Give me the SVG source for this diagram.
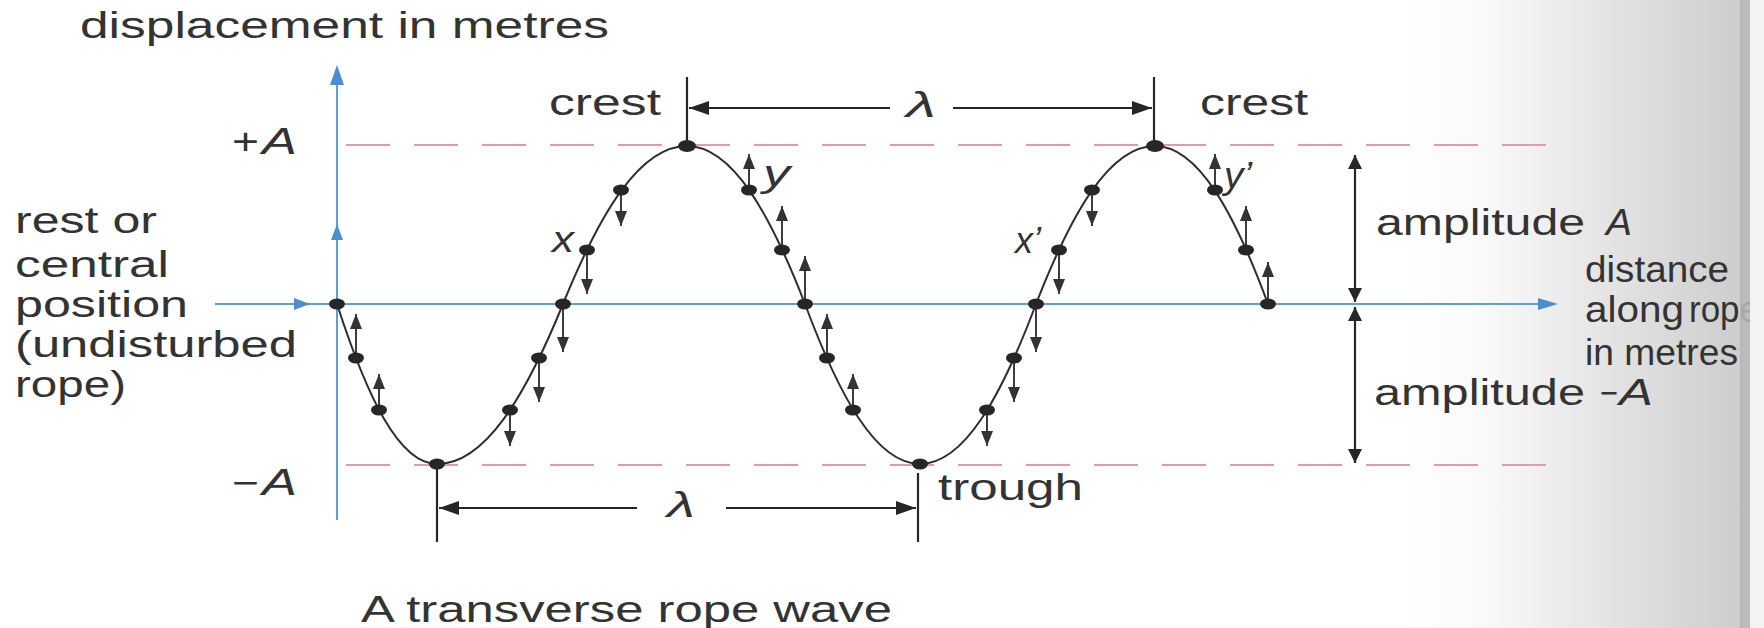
<svg xmlns="http://www.w3.org/2000/svg" width="1764" height="628" viewBox="0 0 1764 628">
<style>
.t{font-family:"Liberation Sans",Arial,sans-serif;font-size:36px;fill:#333333}
.i{font-style:italic}
.ax{stroke:#5d9fd8;stroke-width:2;fill:none}
.axh{fill:#4a8fd0}
.dash{stroke:#df9cb0;stroke-width:2;stroke-dasharray:44 24;fill:none}
.dim{stroke:#262626;stroke-width:2.2;fill:none}
.wave{stroke:#2e2e2e;stroke-width:2;fill:none}
.dot{fill:#262626}
.wa{stroke:#333;stroke-width:1.9;fill:none;marker-end:url(#wah)}
</style>
<defs>
<linearGradient id="pg" x1="0" y1="0" x2="1" y2="0">
<stop offset="0" stop-color="#ffffff" stop-opacity="0"/>
<stop offset="0.45" stop-color="#efefef"/>
<stop offset="1" stop-color="#cdcdcd"/>
</linearGradient>
<marker id="wah" viewBox="0 0 15 12" refX="15" refY="6" markerWidth="15" markerHeight="12" orient="auto" markerUnits="userSpaceOnUse"><path d="M0,0 L15,6 L0,12 z" fill="#333"/></marker>
<marker id="dh" viewBox="0 0 20 14" refX="20" refY="7" markerWidth="20" markerHeight="14" orient="auto" markerUnits="userSpaceOnUse"><path d="M0,0 L20,7 L0,14 z" fill="#262626"/></marker>
<marker id="ah" viewBox="0 0 14 14" refX="14" refY="7" markerWidth="14" markerHeight="14" orient="auto" markerUnits="userSpaceOnUse"><path d="M0,0 L14,7 L0,14 z" fill="#262626"/></marker>
</defs>
<rect width="1764" height="628" fill="#ffffff"/>
<rect x="1380" y="0" width="362" height="628" fill="url(#pg)"/>

<g id="axes">
<line class="ax" x1="337" y1="80" x2="337" y2="520"/>
<path class="axh" d="M337,65 L330,85 L344,85 z"/>
<path class="axh" d="M337,224 L331,240 L343,240 z"/>
<line class="ax" x1="215" y1="304" x2="1542" y2="304"/>
<path class="axh" d="M310,304 L294,298 L294,310 z"/>
<path class="axh" d="M1558,304 L1538,298 L1538,310 z"/>
</g>

<g id="amplitude-lines">
<line class="dash" x1="346" y1="145" x2="1560" y2="145"/>
<line class="dash" x1="346" y1="465" x2="1560" y2="465"/>
</g>

<g id="wave">
<path class="wave" d="M337,304 C367,396.8 399,464 437,464 C484.9,464 525.2,396.8 563,304 C600.2,212.4 639.9,146 687,146 C731.8,146 769.6,212.4 805,304 C839.5,396.8 876.3,464 920,464 C964.1,464 1001.2,396.8 1036,304 C1071.7,212.4 1109.8,146 1155,146 C1197.9,146 1234.1,212.4 1268,304"/>
</g>

<g id="connectors">
<line class="wa" x1="356" y1="358" x2="356" y2="314"/>
<line class="wa" x1="379" y1="410" x2="379" y2="374"/>
<line class="wa" x1="510" y1="410" x2="510" y2="446"/>
<line class="wa" x1="539" y1="358" x2="539" y2="402"/>
<line class="wa" x1="563" y1="304" x2="563" y2="352"/>
<line class="wa" x1="587" y1="250" x2="587" y2="294"/>
<line class="wa" x1="621" y1="190" x2="621" y2="226"/>
<line class="wa" x1="749" y1="190" x2="749" y2="154"/>
<line class="wa" x1="782" y1="250" x2="782" y2="206"/>
<line class="wa" x1="805" y1="304" x2="805" y2="256"/>
<line class="wa" x1="827" y1="358" x2="827" y2="314"/>
<line class="wa" x1="853" y1="410" x2="853" y2="374"/>
<line class="wa" x1="987" y1="410" x2="987" y2="446"/>
<line class="wa" x1="1014" y1="358" x2="1014" y2="402"/>
<line class="wa" x1="1036" y1="304" x2="1036" y2="352"/>
<line class="wa" x1="1059" y1="250" x2="1059" y2="294"/>
<line class="wa" x1="1092" y1="190" x2="1092" y2="226"/>
<line class="wa" x1="1215" y1="190" x2="1215" y2="154"/>
<line class="wa" x1="1246" y1="250" x2="1246" y2="206"/>
<line class="wa" x1="1268" y1="304" x2="1268" y2="262"/>
</g>

<g id="dots">
<ellipse class="dot" cx="337" cy="304" rx="8" ry="5.5"/>
<ellipse class="dot" cx="356" cy="358" rx="8" ry="5.5"/>
<ellipse class="dot" cx="379" cy="410" rx="8" ry="5.5"/>
<ellipse class="dot" cx="437" cy="464" rx="8" ry="5.5"/>
<ellipse class="dot" cx="510" cy="410" rx="8" ry="5.5"/>
<ellipse class="dot" cx="539" cy="358" rx="8" ry="5.5"/>
<ellipse class="dot" cx="563" cy="304" rx="8" ry="5.5"/>
<ellipse class="dot" cx="587" cy="250" rx="8" ry="5.5"/>
<ellipse class="dot" cx="621" cy="190" rx="8" ry="5.5"/>
<ellipse class="dot" cx="687" cy="146" rx="9" ry="6"/>
<ellipse class="dot" cx="749" cy="190" rx="8" ry="5.5"/>
<ellipse class="dot" cx="782" cy="250" rx="8" ry="5.5"/>
<ellipse class="dot" cx="805" cy="304" rx="8" ry="5.5"/>
<ellipse class="dot" cx="827" cy="358" rx="8" ry="5.5"/>
<ellipse class="dot" cx="853" cy="410" rx="8" ry="5.5"/>
<ellipse class="dot" cx="920" cy="464" rx="8" ry="5.5"/>
<ellipse class="dot" cx="987" cy="410" rx="8" ry="5.5"/>
<ellipse class="dot" cx="1014" cy="358" rx="8" ry="5.5"/>
<ellipse class="dot" cx="1036" cy="304" rx="8" ry="5.5"/>
<ellipse class="dot" cx="1059" cy="250" rx="8" ry="5.5"/>
<ellipse class="dot" cx="1092" cy="190" rx="8" ry="5.5"/>
<ellipse class="dot" cx="1155" cy="146" rx="9" ry="6"/>
<ellipse class="dot" cx="1215" cy="190" rx="8" ry="5.5"/>
<ellipse class="dot" cx="1246" cy="250" rx="8" ry="5.5"/>
<ellipse class="dot" cx="1268" cy="304" rx="8" ry="5.5"/>
</g>

<g id="wavelength-top">
<line class="dim" x1="687" y1="77" x2="687" y2="146"/>
<line class="dim" x1="1154" y1="77" x2="1154" y2="146"/>
<line class="dim" x1="890" y1="108" x2="689" y2="108" marker-end="url(#dh)"/>
<line class="dim" x1="953" y1="108" x2="1152" y2="108" marker-end="url(#dh)"/>
<text class="t i" x="906" y="117" textLength="30" lengthAdjust="spacingAndGlyphs">λ</text>
</g>

<g id="wavelength-bottom">
<line class="dim" x1="437" y1="467" x2="437" y2="542"/>
<line class="dim" x1="918" y1="473" x2="918" y2="542"/>
<line class="dim" x1="637" y1="508" x2="439" y2="508" marker-end="url(#dh)"/>
<line class="dim" x1="726" y1="508" x2="916" y2="508" marker-end="url(#dh)"/>
<text class="t i" x="667" y="517" textLength="28" lengthAdjust="spacingAndGlyphs">λ</text>
</g>

<g id="amplitude-arrows">
<line class="dim" x1="1355" y1="228" x2="1355" y2="155" marker-end="url(#ah)"/>
<line class="dim" x1="1355" y1="228" x2="1355" y2="302" marker-end="url(#ah)"/>
<line class="dim" x1="1355" y1="385" x2="1355" y2="307" marker-end="url(#ah)"/>
<line class="dim" x1="1355" y1="385" x2="1355" y2="463" marker-end="url(#ah)"/>
</g>

<g id="labels">
<text class="t" x="80" y="38" font-size="35" textLength="529" lengthAdjust="spacingAndGlyphs">displacement in metres</text>
<text class="t" x="232" y="154" textLength="27" lengthAdjust="spacingAndGlyphs">+</text>
<text class="t i" x="262" y="154" textLength="35" lengthAdjust="spacingAndGlyphs">A</text>
<text class="t" x="232" y="495" textLength="27" lengthAdjust="spacingAndGlyphs">−</text>
<text class="t i" x="262" y="495" textLength="35" lengthAdjust="spacingAndGlyphs">A</text>
<text class="t" x="549" y="115" textLength="112" lengthAdjust="spacingAndGlyphs">crest</text>
<text class="t" x="1200" y="115" textLength="108" lengthAdjust="spacingAndGlyphs">crest</text>
<text class="t" x="15" y="233" textLength="142" lengthAdjust="spacingAndGlyphs">rest or</text>
<text class="t" x="15" y="277" textLength="154" lengthAdjust="spacingAndGlyphs">central</text>
<text class="t" x="15" y="317" textLength="173" lengthAdjust="spacingAndGlyphs">position</text>
<text class="t" x="15" y="357" textLength="282" lengthAdjust="spacingAndGlyphs">(undisturbed</text>
<text class="t" x="15" y="397" textLength="111" lengthAdjust="spacingAndGlyphs">rope)</text>
<text class="t i" x="552" y="252" textLength="22" lengthAdjust="spacingAndGlyphs">x</text>
<text class="t i" x="763" y="186" textLength="27" lengthAdjust="spacingAndGlyphs">y</text>
<text class="t i" x="1015" y="253" textLength="26" lengthAdjust="spacingAndGlyphs">x’</text>
<text class="t i" x="1224" y="188" textLength="28" lengthAdjust="spacingAndGlyphs">y’</text>
<text class="t" x="1376" y="235" textLength="209" lengthAdjust="spacingAndGlyphs">amplitude</text>
<text class="t i" x="1606" y="235" textLength="26" lengthAdjust="spacingAndGlyphs">A</text>
<text class="t" x="1374" y="405" textLength="211" lengthAdjust="spacingAndGlyphs">amplitude</text>
<text class="t" x="1600" y="405" textLength="18" lengthAdjust="spacingAndGlyphs">−</text>
<text class="t i" x="1619" y="405" textLength="34" lengthAdjust="spacingAndGlyphs">A</text>
<text class="t" x="1585" y="282" textLength="144" lengthAdjust="spacingAndGlyphs">distance</text>
<text class="t" x="1585" y="322" textLength="99" lengthAdjust="spacingAndGlyphs">along</text>
<text class="t" x="1689" y="322" font-size="27" fill="#555" textLength="70" lengthAdjust="spacingAndGlyphs">rope</text>
<text class="t" x="1585" y="365" font-size="33" fill="#444" textLength="153" lengthAdjust="spacingAndGlyphs">in metres</text>
<text class="t" x="938" y="500" textLength="145" lengthAdjust="spacingAndGlyphs">trough</text>
<text class="t" x="361" y="622" textLength="531" lengthAdjust="spacingAndGlyphs">A transverse rope wave</text>
</g>
<rect x="1740" y="0" width="10" height="628" fill="#b5b5b5" opacity="0.9"/>
<rect x="1750" y="0" width="14" height="628" fill="#f3f3f3"/>
</svg>
